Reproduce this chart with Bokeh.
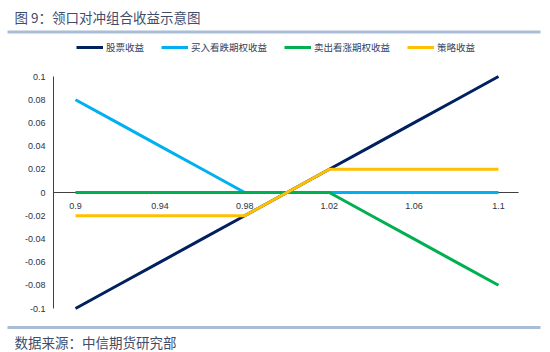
from bokeh.plotting import figure
from bokeh.models import Range1d, Legend, LegendItem
from bokeh.core.properties import value
from bokeh.embed import file_html
from bokeh.resources import INLINE

# ---- data ----
x_vals = [0.90, 0.92, 0.94, 0.96, 0.98, 1.00, 1.02, 1.04, 1.06, 1.08, 1.10]
stock = [-0.10, -0.08, -0.06, -0.04, -0.02, 0.00, 0.02, 0.04, 0.06, 0.08, 0.10]
put_long = [0.08, 0.06, 0.04, 0.02, 0.00, 0.00, 0.00, 0.00, 0.00, 0.00, 0.00]
call_short = [0.00, 0.00, 0.00, 0.00, 0.00, 0.00, 0.00, -0.02, -0.04, -0.06, -0.08]
strategy = [-0.02, -0.02, -0.02, -0.02, -0.02, 0.00, 0.02, 0.02, 0.02, 0.02, 0.02]
series_names = ["股票收益", "买入看跌期权收益", "卖出看涨期权收益", "策略收益"]

x_ticks = [0.90, 0.94, 0.98, 1.02, 1.06, 1.10]
x_tick_labels = ["0.9", "0.94", "0.98", "1.02", "1.06", "1.1"]
y_ticks = [0.1, 0.08, 0.06, 0.04, 0.02, 0.0, -0.02, -0.04, -0.06, -0.08, -0.1]
y_tick_labels = ["0.1", "0.08", "0.06", "0.04", "0.02", "0", "-0.02", "-0.04", "-0.06", "-0.08", "-0.1"]

title_text = "图 9：领口对冲组合收益示意图"
source_text = "数据来源：中信期货研究部"

colors = ["#002060", "#00B0F0", "#00B050", "#FFC000"]
CJK = "Noto Sans CJK SC"
TXT = "#3F4D6B"
TICK = "#2B3347"
SEP = "#A9BDD6"
AXC = "#404040"

W, H = 550, 352

# data ranges chosen so that the plot area sits where it does in the reference
x_start, x_end = 0.86454, 1.12459
y_start, y_end = -0.13793, 0.16552
ax_x0, ax_x1 = 0.8896, 1.1095

p = figure(width=W, height=H, output_backend="svg", toolbar_location=None,
           x_range=Range1d(x_start, x_end), y_range=Range1d(y_start, y_end),
           x_axis_location=None, y_axis_location=None,
           min_border=0, outline_line_color=None,
           background_fill_color="white", border_fill_color="white")
p.grid.visible = False

# pixel-space range for the page decorations (y measured upward from the bottom)
p.extra_x_ranges = {"px": Range1d(0, W)}
p.extra_y_ranges = {"px": Range1d(0, H)}
PX = dict(x_range_name="px", y_range_name="px")


def py(y_top):
    return H - y_top


# header
p.text(x=[14], y=[py(16)], text=[title_text], text_font=value(CJK), text_font_size="13.5px",
       text_color=TXT, text_baseline="middle", text_align="left", **PX)
p.segment(x0=[7], y0=[py(31.5)], x1=[540], y1=[py(31.5)], line_color=SEP, line_width=3, **PX)

# footer
p.segment(x0=[7], y0=[py(327)], x1=[540], y1=[py(327)], line_color=SEP, line_width=3, **PX)
p.text(x=[14], y=[py(341)], text=[source_text], text_font=value(CJK), text_font_size="13.5px",
       text_color=TXT, text_baseline="middle", text_align="left", **PX)

# axes: vertical axis at the left, horizontal axis crossing at zero
p.segment(x0=[ax_x0], y0=[min(y_ticks)], x1=[ax_x0], y1=[max(y_ticks)], line_color=AXC, line_width=1)
p.segment(x0=[ax_x0], y0=[0], x1=[ax_x1], y1=[0], line_color=AXC, line_width=1)

p.text(x=[ax_x0] * len(y_ticks), y=y_ticks, text=y_tick_labels, x_offset=-8,
       text_align="right", text_baseline="middle",
       text_font=value("Liberation Sans"), text_font_size="9px", text_color=TICK)
p.text(x=x_ticks, y=[0] * len(x_ticks), text=x_tick_labels, y_offset=13,
       text_align="center", text_baseline="middle",
       text_font=value("Liberation Sans"), text_font_size="9px", text_color=TICK)

renderers = []
for ys, c in zip([stock, put_long, call_short, strategy], colors):
    r = p.line(x_vals, ys, line_color=c, line_width=3)
    renderers.append(r)

legend = Legend(items=[LegendItem(label=n, renderers=[r]) for n, r in zip(series_names, renderers)],
                orientation="horizontal", location=(76, 295),
                glyph_width=27, glyph_height=20, label_standoff=3, spacing=17,
                padding=0, margin=0, border_line_color=None, background_fill_alpha=0,
                label_text_font=CJK, label_text_font_size="9.5px", label_text_color="#333F5C")
p.add_layout(legend, "center")

open("out.html", "w").write(file_html(p, INLINE))
